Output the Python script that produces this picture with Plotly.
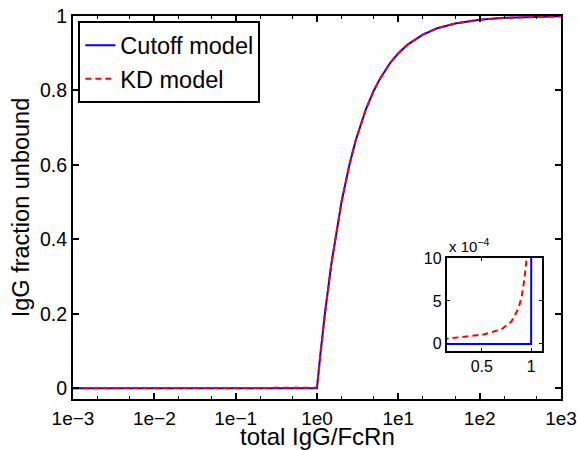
import plotly.graph_objects as go

# total IgG / FcRn ratio and unbound IgG fraction
cutoff_x = [0.001, 0.01, 0.1, 0.5, 1.0, 1.1, 1.25, 1.5, 1.75, 2, 2.5, 3, 4, 5, 6, 8,
            10, 13, 20, 30, 50, 100, 200, 500, 1000]
cutoff_y = [0, 0, 0, 0, 0, 0.091, 0.2, 0.333, 0.429, 0.5, 0.6, 0.667, 0.75, 0.8, 0.833,
            0.875, 0.9, 0.923, 0.95, 0.967, 0.98, 0.99, 0.995, 0.998, 0.999]

kd_x = [0.001, 0.01, 0.1, 0.145, 0.28, 0.52, 0.70, 0.80, 0.87, 0.905, 0.93, 0.956,
        0.965, 0.98, 0.99, 1.0, 1.02, 1.05, 1.1, 1.25, 1.5, 1.75, 2, 2.5, 3, 4, 5, 6, 8,
        10, 13, 20, 30, 50, 100, 200, 500, 1000]
kd_y = [0.00005, 0.00005, 0.00006, 0.00006, 0.000075, 0.00011, 0.00017, 0.00026,
        0.00041, 0.00055, 0.00074, 0.00097, 0.0011, 0.0025, 0.0045, 0.0075, 0.022,
        0.048, 0.091, 0.2, 0.333, 0.429, 0.5, 0.6, 0.667, 0.75, 0.8, 0.833, 0.875, 0.9,
        0.923, 0.95, 0.967, 0.98, 0.99, 0.995, 0.998, 0.999]

x_tickvals = [1e-3, 1e-2, 1e-1, 1e0, 1e1, 1e2, 1e3]
x_ticktext = ["1e\u22123", "1e\u22122", "1e\u22121", "1e0", "1e1", "1e2", "1e3"]
y_tickvals = [0, 0.2, 0.4, 0.6, 0.8, 1]
y_ticktext = ["0", "0.2", "0.4", "0.6", "0.8", "1"]

inset_xticks = [0.5, 1.0]
inset_xtext = ["0.5", "1"]
inset_yticks = [0, 5e-4, 10e-4]
inset_ytext = ["0", "5", "10"]

FONT = "Liberation Sans, Arial, Helvetica, sans-serif"
BLUE = "#0000ff"
RED = "#ff0000"
DASH = "6px,4px"

fig = go.Figure()

# main panel
fig.add_trace(go.Scatter(x=cutoff_x, y=cutoff_y, mode="lines", name="Cutoff model",
                         line=dict(color=BLUE, width=2), xaxis="x", yaxis="y"))
fig.add_trace(go.Scatter(x=kd_x, y=kd_y, mode="lines", name="KD model",
                         line=dict(color=RED, width=2, dash=DASH), xaxis="x", yaxis="y"))

# inset: zoom near zero for ratio < 1
fig.add_trace(go.Scatter(x=cutoff_x, y=cutoff_y, mode="lines", showlegend=False,
                         line=dict(color=BLUE, width=2), xaxis="x2", yaxis="y2"))
fig.add_trace(go.Scatter(x=kd_x, y=kd_y, mode="lines", showlegend=False,
                         line=dict(color=RED, width=2, dash=DASH), xaxis="x2", yaxis="y2"))

axis_common = dict(showline=True, linecolor="black", linewidth=2, mirror="ticks",
                   ticks="inside", tickcolor="black", showgrid=False, zeroline=False,
                   ticklabeloverflow="allow", automargin=False)

fig.update_layout(
    width=577, height=450,
    margin=dict(l=73, r=16, t=16, b=51),
    paper_bgcolor="white", plot_bgcolor="white",
    font=dict(family=FONT, color="black"),
    xaxis=dict(type="log", range=[-3, 3], tickvals=x_tickvals, ticktext=x_ticktext,
               ticklen=6, tickwidth=1.5, tickfont=dict(size=19), ticklabelstandoff=1,
               minor=dict(ticks="inside", ticklen=3, tickcolor="black", tickwidth=1),
               domain=[0, 1], **axis_common),
    yaxis=dict(range=[-0.029, 1.0], tickvals=y_tickvals, ticktext=y_ticktext,
               ticklen=6, tickwidth=1.5, tickfont=dict(size=19.5),
               title=dict(text="IgG fraction unbound", font=dict(size=23.5), standoff=4),
               domain=[0, 1], **axis_common),
    xaxis2=dict(range=[0.145, 1.11], tickvals=inset_xticks, ticktext=inset_xtext,
                ticklen=3, tickfont=dict(size=16), domain=[0.766, 0.961],
                anchor="y2", **axis_common),
    yaxis2=dict(range=[-0.8e-4, 10e-4], tickvals=inset_yticks, ticktext=inset_ytext,
                ticklen=3, tickfont=dict(size=16), domain=[0.126, 0.368],
                anchor="x2", **axis_common),
    legend=dict(x=0.011, y=0.986, xanchor="left", yanchor="top",
                bgcolor="white", bordercolor="black", borderwidth=2,
                font=dict(size=23.5), tracegroupgap=0, itemwidth=30),
    showlegend=True,
    annotations=[
        dict(text="total IgG/FcRn", xref="paper", yref="paper", x=0.5, y=-0.097,
             xanchor="center", yanchor="middle", showarrow=False, borderpad=0,
             font=dict(size=24, family=FONT)),
        dict(text="x 10<sup>\u22124</sup>", xref="paper", yref="paper",
             x=0.766, y=0.372, xanchor="left", yanchor="bottom",
             showarrow=False, font=dict(size=15, family=FONT)),
    ],
)

fig.write_html("out.html")
